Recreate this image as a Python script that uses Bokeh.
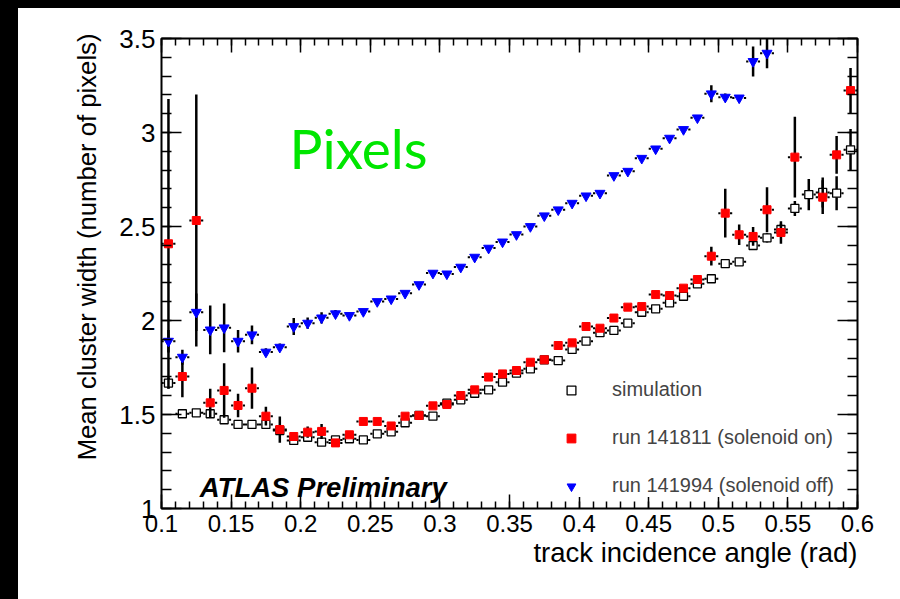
import numpy as np
from bokeh.plotting import figure
from bokeh.models import (Range1d, LinearAxis, FixedTicker, CustomJSTickFormatter,
                          Legend, LegendItem, Label, Title)
from bokeh.embed import file_html
from bokeh.resources import INLINE

# ---------------- data ----------------
sim_x = [0.105, 0.115, 0.125, 0.135, 0.145, 0.155, 0.165, 0.175, 0.185, 0.195,
         0.205, 0.215, 0.225, 0.235, 0.245, 0.255, 0.265, 0.275, 0.285, 0.295,
         0.305, 0.315, 0.325, 0.335, 0.345, 0.355, 0.365, 0.375, 0.385, 0.395,
         0.405, 0.415, 0.425, 0.435, 0.445, 0.455, 0.465, 0.475, 0.485, 0.495,
         0.505, 0.515, 0.525, 0.535, 0.545, 0.555, 0.565, 0.575, 0.585, 0.595]
sim_y = [1.667, 1.504, 1.509, 1.504, 1.472, 1.447, 1.447, 1.447, 1.415, 1.362,
         1.379, 1.353, 1.365, 1.371, 1.365, 1.397, 1.408, 1.456, 1.495, 1.491,
         1.560, 1.578, 1.613, 1.631, 1.672, 1.720, 1.743, 1.791, 1.787, 1.846,
         1.890, 1.935, 1.947, 1.986, 2.044, 2.062, 2.094, 2.129, 2.195, 2.222,
         2.302, 2.312, 2.399, 2.440, 2.484, 2.596, 2.670, 2.681, 2.677, 2.908]
sim_err = [0.03, 0.012, 0.012, 0.02, 0.01, 0.01, 0.01, 0.01, 0.01, 0.01,
           0.01, 0.01, 0.01, 0.01, 0.01, 0.01, 0.01, 0.01, 0.01, 0.01,
           0.01, 0.01, 0.01, 0.01, 0.01, 0.01, 0.01, 0.01, 0.01, 0.01,
           0.01, 0.01, 0.01, 0.01, 0.01, 0.01, 0.01, 0.01, 0.01, 0.01,
           0.012, 0.012, 0.02, 0.025, 0.03, 0.04, 0.083, 0.08, 0.09, 0.11]

on_x = [0.105, 0.115, 0.125, 0.135, 0.145, 0.155, 0.165, 0.175, 0.185, 0.195,
        0.205, 0.215, 0.225, 0.235, 0.245, 0.255, 0.265, 0.275, 0.285, 0.295,
        0.305, 0.315, 0.325, 0.335, 0.345, 0.355, 0.365, 0.375, 0.385, 0.395,
        0.405, 0.415, 0.425, 0.435, 0.445, 0.455, 0.465, 0.475, 0.485, 0.495,
        0.505, 0.515, 0.525, 0.535, 0.545, 0.555, 0.575, 0.585, 0.595]
on_y = [2.408, 1.702, 2.532, 1.562, 1.628, 1.548, 1.640, 1.491, 1.420, 1.383,
        1.406, 1.410, 1.349, 1.392, 1.463, 1.463, 1.439, 1.491, 1.495, 1.546,
        1.553, 1.601, 1.631, 1.699, 1.716, 1.734, 1.778, 1.791, 1.867, 1.881,
        1.968, 1.959, 2.013, 2.071, 2.074, 2.138, 2.133, 2.172, 2.218, 2.342,
        2.571, 2.456, 2.447, 2.589, 2.468, 2.869, 2.656, 2.881, 3.223]
on_err = [0.77, 0.11, 0.67, 0.075, 0.145, 0.062, 0.11, 0.05, 0.07, 0.02,
          0.03, 0.04, 0.015, 0.015, 0.015, 0.015, 0.015, 0.015, 0.015, 0.015,
          0.015, 0.015, 0.015, 0.015, 0.015, 0.015, 0.015, 0.015, 0.015, 0.015,
          0.015, 0.015, 0.015, 0.015, 0.015, 0.015, 0.015, 0.015, 0.015, 0.05,
          0.13, 0.055, 0.05, 0.12, 0.06, 0.215, 0.09, 0.10, 0.12]

off_x = [0.105, 0.115, 0.125, 0.135, 0.145, 0.155, 0.165, 0.175, 0.185, 0.195,
         0.205, 0.215, 0.225, 0.235, 0.245, 0.255, 0.265, 0.275, 0.285, 0.295,
         0.305, 0.315, 0.325, 0.335, 0.345, 0.355, 0.365, 0.375, 0.385, 0.395,
         0.405, 0.415, 0.425, 0.435, 0.445, 0.455, 0.465, 0.475, 0.485, 0.495,
         0.505, 0.515, 0.525, 0.535]
off_y = [1.890, 1.805, 2.044, 1.950, 1.961, 1.890, 1.924, 1.832, 1.858, 1.968,
         1.986, 2.014, 2.036, 2.027, 2.048, 2.101, 2.115, 2.145, 2.191, 2.252,
         2.248, 2.284, 2.337, 2.385, 2.418, 2.457, 2.500, 2.557, 2.589, 2.624,
         2.663, 2.677, 2.771, 2.794, 2.863, 2.913, 2.970, 3.016, 3.078, 3.206,
         3.188, 3.184, 3.378, 3.422]
off_err = [0.06, 0.04, 0.10, 0.13, 0.13, 0.06, 0.05, 0.02, 0.02, 0.045,
           0.03, 0.03, 0.02, 0.012, 0.012, 0.012, 0.012, 0.012, 0.012, 0.012,
           0.012, 0.012, 0.012, 0.012, 0.012, 0.012, 0.012, 0.012, 0.012, 0.012,
           0.012, 0.012, 0.012, 0.012, 0.012, 0.012, 0.012, 0.012, 0.012, 0.045,
           0.02, 0.015, 0.08, 0.08]

x_major = [0.1, 0.15, 0.2, 0.25, 0.3, 0.35, 0.4, 0.45, 0.5, 0.55, 0.6]
y_major = [1.0, 1.5, 2.0, 2.5, 3.0, 3.5]
x_minor = [round(0.1 + 0.01 * i, 2) for i in range(51)]
y_minor = [round(1.0 + 0.1 * i, 1) for i in range(26)]

labels = ["simulation", "run 141811 (solenoid on)", "run 141994 (solenoid off)"]

HALF = 0.005   # half bin width (x error)
GAP = 0.0034   # gap around marker

FONT = "Liberation Sans"

p = figure(width=882, height=591, x_range=Range1d(0.1, 0.6), y_range=Range1d(1.0, 3.5),
           output_backend="svg", toolbar_location=None,
           min_border_left=143, min_border_right=43, min_border_top=30, min_border_bottom=91,
           background_fill_color="white", border_fill_color="white")
p.grid.visible = False
p.outline_line_color = "black"
p.outline_line_width = 2

fmt = CustomJSTickFormatter(code="return String(Number(tick.toFixed(2)));")

xb = p.xaxis[0]
yl = p.yaxis[0]
xt = LinearAxis()
yr = LinearAxis()
p.add_layout(xt, "above")
p.add_layout(yr, "right")

for ax in (xb, xt):
    ax.ticker = FixedTicker(ticks=x_major, minor_ticks=x_minor)
    ax.major_tick_in = 14
    ax.minor_tick_in = 7
for ax in (yl, yr):
    ax.ticker = FixedTicker(ticks=y_major, minor_ticks=y_minor)
    ax.major_tick_in = 20
    ax.minor_tick_in = 10
for ax in (xb, xt, yl, yr):
    ax.major_tick_out = 0
    ax.minor_tick_out = 0
    ax.major_tick_line_width = 1.5
    ax.minor_tick_line_width = 1.5
    ax.major_tick_line_color = "black"
    ax.minor_tick_line_color = "black"
    ax.axis_line_color = None
    ax.formatter = fmt
    ax.major_label_text_font = FONT
    ax.major_label_text_font_size = "24px"
    ax.major_label_text_color = "black"
for ax in (xt, yr):
    ax.major_label_text_font_size = "0px"
    ax.major_label_text_color = None
yl.major_label_text_font_size = "26px"
xb.major_label_standoff = 6
yl.major_label_standoff = 6

xtitle = Title(text="track incidence angle (rad)", align="right", text_font=FONT,
               text_font_size="27.5px", text_font_style="normal", text_color="black",
               standoff=0)
ytitle = Title(text="Mean cluster width (number of pixels)", align="right", text_font=FONT,
               text_font_size="25.7px", text_font_style="normal", text_color="black",
               standoff=31, offset=-5)
p.add_layout(xtitle, "below")
p.add_layout(ytitle, "left")


def draw(x, y, e, **mk):
    x = np.array(x); y = np.array(y); e = np.array(e)
    p.segment(x, y - e, x, y + e, line_color="black", line_width=2.5)
    p.segment(x - HALF, y, x - GAP, y, line_color="black", line_width=2)
    p.segment(x + GAP, y, x + HALF, y, line_color="black", line_width=2)
    return p.scatter(x, y, **mk)


r_sim = draw(sim_x, sim_y, sim_err, marker="square", size=8, fill_color="white",
             line_color="black", line_width=1.3)
r_on = draw(on_x, on_y, on_err, marker="square", size=8, fill_color="#ff0000",
            line_color="#ff0000", line_width=1)
r_off = draw(off_x, off_y, off_err, marker="inverted_triangle", size=10, fill_color="#0000ff",
             line_color="#0000ff", line_width=1)

legend = Legend(items=[LegendItem(label=labels[0], renderers=[r_sim]),
                       LegendItem(label=labels[1], renderers=[r_on]),
                       LegendItem(label=labels[2], renderers=[r_off])],
                location=(381, 11), margin=0, padding=13, spacing=25,
                glyph_width=58, glyph_height=22, label_height=22, label_standoff=12,
                label_text_font=FONT, label_text_font_size="20px",
                background_fill_color="white", background_fill_alpha=1.0,
                border_line_color=None)
p.add_layout(legend)

p.add_layout(Label(x=0.192, y=2.915, text="Pixels", text_font="Lato",
                   text_font_size="55px", text_color="#00e600",
                   text_baseline="alphabetic", text_align="left"))
p.add_layout(Label(x=0.1275, y=1.11, text="ATLAS Preliminary", text_font=FONT,
                   text_font_size="27.5px", text_font_style="bold italic", text_color="black",
                   text_baseline="alphabetic", text_align="left"))

html = file_html(p, INLINE)
css = ("<style>html, body {background:#fff !important; margin:0 !important; "
       "padding:0 !important; overflow:hidden !important;} "
       "body {border-left:18px solid #000 !important; border-top:8px solid #000 !important; "
       "box-sizing:border-box !important;}</style>")
html = html.replace("</head>", css + "</head>", 1)
open("out.html", "w").write(html)
